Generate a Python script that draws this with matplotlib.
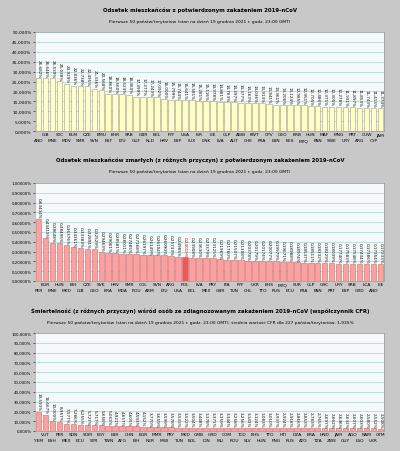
import matplotlib
matplotlib.use("Agg")
import matplotlib.pyplot as plt
from matplotlib.ticker import FuncFormatter

# panel 1: odsetek zakazonych
codes1 = ["AND", "GIB", "MNE", "SYC", "MDV", "BLM", "SMR", "CZE", "SVN", "BMU",
          "EST", "BHR", "LTU", "SRB", "GUF", "GBR", "NLD", "BEL", "HRV", "PYF",
          "ESP", "USA", "LUX", "ISR", "DNK", "LIE", "LVA", "GLP", "AUT", "ABW",
          "CHE", "KWT", "FRA", "CPV", "LBN", "GEO", "BES", "BRB", "MTQ", "HUN",
          "PAN", "MAF", "SWE", "MNG", "URY", "PRT", "ARG", "CUW", "CYP", "JAM"]
vals1 = [26.682, 26.646, 26.539, 25.038, 23.929, 22.836, 22.738, 22.495, 21.336, 20.568,
         18.860, 18.560, 18.523, 18.360, 17.399, 17.277, 17.243, 17.092, 16.000, 15.799,
         15.744, 15.641, 15.581, 15.281, 15.116, 14.978, 14.881, 14.763, 14.397, 14.377,
         14.163, 14.036, 13.913, 13.841, 13.361, 13.206, 13.124, 12.985, 12.951, 12.705,
         12.486, 12.371, 12.305, 12.278, 11.931, 11.897, 11.853, 11.743, 11.413, 11.374]

# panel 2: odsetek zmarlych
codes2 = ["PER", "BGR", "MNE", "HUN", "MKD", "BIH", "GIB", "CZE", "GEO", "SVK",
          "BRA", "HRV", "MDA", "SMR", "ROU", "COL", "ARM", "SVN", "LTU", "ARG",
          "USA", "POL", "BEL", "LVA", "MEX", "PRY", "GBR", "ITA", "TUN", "PYF",
          "CHL", "UKR", "TTO", "BHS", "RUS", "MTQ", "ECU", "SUR", "FRA", "GLP",
          "PAN", "GRC", "PRT", "URY", "ESP", "SRB", "GRD", "LCA", "AND", "LIE"]
vals2 = [0.63434, 0.43419, 0.38648, 0.38495, 0.36376, 0.34361, 0.33383, 0.32891, 0.32529, 0.29463,
         0.29061, 0.28581, 0.28011, 0.27485, 0.27168, 0.26197, 0.26149, 0.26104, 0.26090, 0.25733,
         0.24985, 0.24019, 0.23908, 0.23630, 0.23379, 0.23125, 0.21969, 0.21760, 0.21507, 0.21308,
         0.20378, 0.20179, 0.20174, 0.20077, 0.19979, 0.19671, 0.18988, 0.18974, 0.18537, 0.18511,
         0.18332, 0.18229, 0.18039, 0.17740, 0.17583, 0.17548, 0.17434, 0.17386, 0.17354, 0.17233]
highlight2 = "POL"

# panel 3: CFR
codes3 = ["YEM", "VUT", "ESH", "PER", "MEX", "SDN", "ECU", "SOM", "SYR", "EGY",
          "TWN", "LBR", "AFG", "CHN", "BIH", "BGR", "NER", "MMR", "MWI", "PRY",
          "TUN", "MKD", "BOL", "GMB", "IDN", "GRD", "MLI", "COM", "ROU", "TCD",
          "SLV", "BHS", "HUN", "TTO", "PNG", "HTI", "RUS", "DZA", "ATG", "BRA",
          "TZA", "HND", "ZWE", "JAM", "GUY", "AGO", "LSO", "NAM", "UKR", "GTM"]
vals3 = [19.593, 16.667, 10.000, 8.957, 7.577, 7.286, 6.255, 5.727, 5.717, 5.658,
         5.063, 4.921, 4.657, 4.605, 4.593, 4.152, 3.770, 3.659, 3.599, 3.578,
         3.533, 3.522, 3.504, 3.448, 3.378, 3.371, 3.359, 3.344, 3.258, 3.256,
         3.143, 3.124, 3.083, 3.010, 2.937, 2.924, 2.918, 2.866, 2.853, 2.783,
         2.765, 2.697, 2.662, 2.646, 2.632, 2.607, 2.603, 2.580, 2.552, 2.508]

titles = [
    "Odsetek mieszkańców z potwierdzonym zakażeniem 2019-nCoV",
    "Odsetek mieszkańców zmarłych (z różnych przyczyn) z potwierdzonym zakażeniem 2019-nCoV",
    "Śmiertelność (z różnych przyczyn) wśród osób ze zdiagnozowanym zakażeniem 2019-nCoV (współczynnik CFR)",
]
sub = "Pierwsze 50 państw/terytoriów (stan na dzień 19 grudnia 2021 r. godz. 23:00 GMT)"
subtitles = [sub, sub, sub + "; średnia wartość CFR dla 227 państw/terytoriów: 1,935%"]


def pct(decimals):
    return lambda v, pos: f"{v:.{decimals}f}".replace(".", ",") + "%"


def draw_panel(ax, codes, vals, ymax, ystep, dec, color, edge, tick_fs, hl=None):
    x = list(range(len(codes)))
    cols = [("#f05858" if c == hl else color) for c in codes]
    ax.bar(x, vals, width=0.8, color=cols, edgecolor=edge, linewidth=0.4, zorder=3)
    for xi, c, v in zip(x, codes, vals):
        ax.text(xi, v + ymax * 0.012, pct(dec)(v, None), rotation=270, ha="center",
                va="bottom", fontsize=3.0, color=("#e00000" if c == hl else "#101010"))
    ax.set_xlim(-0.5, len(codes) - 0.5)
    ax.set_ylim(0, ymax)
    ticks = [i * ystep for i in range(int(round(ymax / ystep)) + 1)]
    ax.set_yticks(ticks)
    ax.yaxis.set_major_formatter(FuncFormatter(pct(dec)))
    ax.set_xticks([])
    # kody krajow w dwoch rzedach na przemian
    trans = ax.get_xaxis_transform()
    for xi, c in zip(x, codes):
        off = -1.5 if xi % 2 == 1 else -7.5
        ax.annotate(c, (xi, 0), xycoords=trans, xytext=(0, off),
                    textcoords="offset pixels", ha="center", va="top", fontsize=3.2)
    ax.tick_params(axis="y", labelsize=tick_fs, length=1.5, width=0.4, pad=1)
    ax.set_facecolor("#f6f9f9")
    ax.grid(axis="y", color="#a8d4d4", linewidth=0.5, zorder=0)
    for s in ax.spines.values():
        s.set_color("#909090")
        s.set_linewidth(0.4)


fig = plt.figure(figsize=(4.0, 4.52), dpi=100)
fig.patch.set_facecolor("#c8c8c8")

left, width = 35 / 400, 349 / 400
tops = [33, 184, 334]
bottoms = [132, 282, 432]
title_y = [10, 160, 311]
sub_y = [22, 172, 323]

axes = []
for t, b in zip(tops, bottoms):
    axes.append(fig.add_axes([left, 1 - b / 452, width, (b - t) / 452]))

draw_panel(axes[0], codes1, vals1, 50, 5, 3, "#ffffc4", "#a0a090", 3.2)
draw_panel(axes[1], codes2, vals2, 1.0, 0.1, 5, "#ffa0a0", "#c07070", 2.8, hl=highlight2)
draw_panel(axes[2], codes3, vals3, 100, 10, 3, "#ffa0a0", "#c07070", 2.8)

for i in range(3):
    fig.text(0.5, 1 - title_y[i] / 452, titles[i], ha="center", va="center",
             fontsize=3.9, fontweight="bold")
    fig.text(0.5, 1 - sub_y[i] / 452, subtitles[i], ha="center", va="center",
             fontsize=3.2)

fig.savefig("out.png", dpi=100, facecolor=fig.get_facecolor())
